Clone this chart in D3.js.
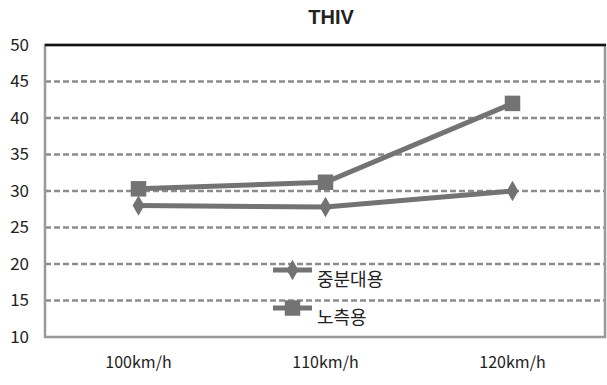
<!DOCTYPE html>
<html>
<head>
<meta charset="utf-8">
<script src="https://cdn.jsdelivr.net/npm/d3@7"></script>
<style>
body { margin:0; background:#fff; }
text { font-family: "Noto Sans CJK KR", "Noto Sans", sans-serif; fill:#222; }
</style>
</head>
<body>
<svg id="chart" width="607" height="385"></svg>
<script>
// chart data
var categories = ["100km/h","110km/h","120km/h"];
var seriesNames = ["중분대용","노측용"];
var medianValues = [28.0, 27.8, 30.0];   // 중분대용 (diamond)
var roadsideValues = [30.3, 31.2, 42.0]; // 노측용 (square)
var yTicks = [10,15,20,25,30,35,40,45,50];

var svg = d3.select("#chart");
var margins = {left:45, right:1, top:45, bottom:48};
var width = 607 - margins.left - margins.right;
var height = 385 - margins.top - margins.bottom;

var xScale = d3.scaleBand()
    .domain(categories)
    .range([margins.left, margins.left + width]);
var yScale = d3.scaleLinear()
    .domain([10,50])
    .range([margins.top + height, margins.top]);

var lineColor = "#737373";

// title
svg.append("text")
    .text("THIV")
    .attr("x",331)
    .attr("y",24)
    .attr("text-anchor","middle")
    .style("font-family","Arial, 'Liberation Sans', sans-serif")
    .style("font-weight","bold")
    .style("font-size","20px");

// gridlines
svg.append("g")
    .selectAll("line")
    .data(yTicks.filter(function(t){ return t > 10 && t < 50; }))
    .enter()
    .append("line")
    .attr("x1",margins.left)
    .attr("x2",margins.left + width)
    .attr("y1",function(d){ return yScale(d); })
    .attr("y2",function(d){ return yScale(d); })
    .attr("stroke","#8c8c8c")
    .attr("stroke-width",2.5)
    .attr("stroke-dasharray","6,3");

// frame
svg.append("rect")
    .attr("x",margins.left)
    .attr("y",yScale(50))
    .attr("width",width - 1)
    .attr("height",yScale(10) - yScale(50))
    .attr("fill","none")
    .attr("stroke","#999")
    .attr("stroke-width",2.5);
svg.append("line")
    .attr("x1",margins.left)
    .attr("x2",margins.left + width)
    .attr("y1",yScale(50))
    .attr("y2",yScale(50))
    .attr("stroke","#111")
    .attr("stroke-width",2.5);

// y axis labels
var yAxis = d3.axisLeft(yScale).tickValues(yTicks).tickSize(0).tickPadding(16);
var yg = svg.append("g")
    .attr("transform","translate("+margins.left+",0)")
    .call(yAxis);
yg.select(".domain").remove();
yg.selectAll("text")
    .style("font-family","'Noto Sans CJK KR', sans-serif")
    .style("font-size","17px").style("fill","#222");

// x axis labels
var xAxis = d3.axisBottom(xScale).tickSize(0).tickPadding(20);
var xg = svg.append("g")
    .attr("transform","translate(0,"+yScale(10)+")")
    .call(xAxis);
xg.select(".domain").remove();
xg.selectAll("text")
    .style("font-family","'Noto Sans CJK KR', sans-serif")
    .style("font-size","16px").style("fill","#222");

var lineGenerator = d3.line()
    .x(function(d,i){ return xScale(categories[i]) + xScale.bandwidth()/2; })
    .y(function(d){ return yScale(d); });

var series = [
    {name:seriesNames[0], values:medianValues, symbol:d3.symbolDiamond, size:120},
    {name:seriesNames[1], values:roadsideValues, symbol:d3.symbolSquare, size:240}
];

series.forEach(function(s){
    svg.append("path")
        .datum(s.values)
        .attr("d",lineGenerator)
        .attr("fill","none")
        .attr("stroke",lineColor)
        .attr("stroke-width",5);
    svg.append("g")
        .selectAll("path")
        .data(s.values)
        .enter()
        .append("path")
        .attr("d",d3.symbol().type(s.symbol).size(s.size))
        .attr("transform",function(d,i){
            return "translate("+(xScale(categories[i]) + xScale.bandwidth()/2)+","+yScale(d)+")";
        })
        .attr("fill",lineColor);
});

// legend
var legend = svg.append("g").attr("transform","translate(273,270)");
series.forEach(function(s,i){
    var g = legend.append("g").attr("transform","translate(0,"+(i*38)+")");
    g.append("line")
        .attr("x1",0).attr("x2",39)
        .attr("y1",0).attr("y2",0)
        .attr("stroke",lineColor)
        .attr("stroke-width",5);
    g.append("path")
        .attr("d",d3.symbol().type(s.symbol).size(s.size))
        .attr("transform","translate(19.5,0)")
        .attr("fill",lineColor);
    g.append("text")
        .text(s.name)
        .attr("x",44)
        .attr("y",16)
        .style("font-family","'Noto Sans CJK KR', sans-serif")
        .style("font-size","18px");
});
</script>
</body>
</html>
